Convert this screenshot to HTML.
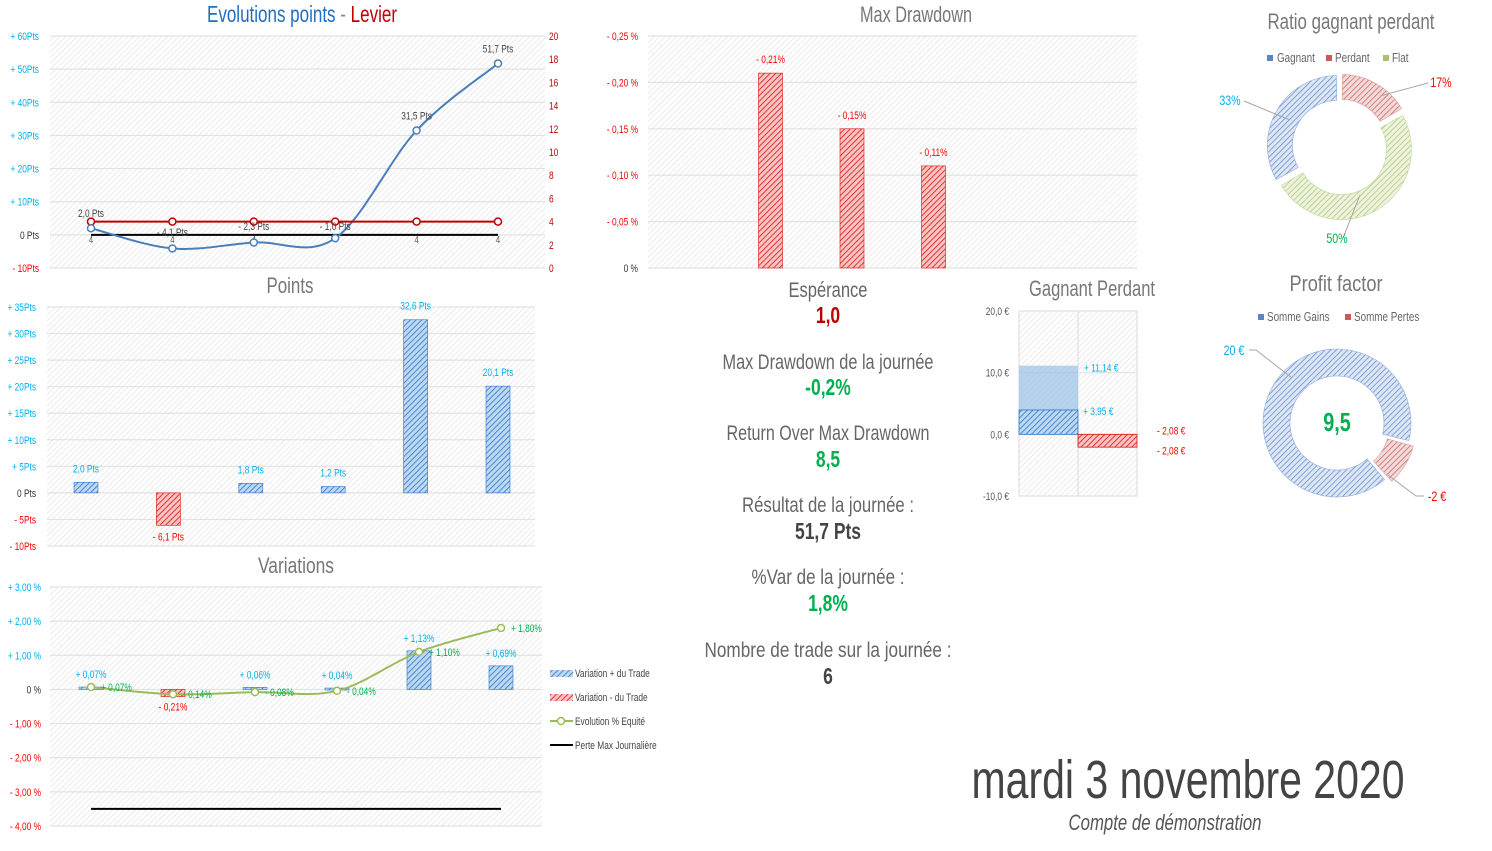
<!DOCTYPE html>
<html><head><meta charset="utf-8"><title>Dashboard</title>
<style>
html,body{margin:0;padding:0;background:#fff;}
svg{display:block;font-family:"Liberation Sans",sans-serif;}
</style></head>
<body>
<svg id="dash" xmlns="http://www.w3.org/2000/svg" width="1492" height="851" viewBox="0 0 1492 851">
<defs>
<pattern id="bg" width="4" height="4" patternUnits="userSpaceOnUse" patternTransform="rotate(45)"><rect width="4" height="4" fill="#fff"/><line x1="0" y1="0" x2="0" y2="4" stroke="#dedede" stroke-width="1.2"/></pattern>
<pattern id="hb" width="4" height="4" patternUnits="userSpaceOnUse" patternTransform="rotate(45)"><rect width="4" height="4" fill="#bcd8f2"/><line x1="0" y1="0" x2="0" y2="4" stroke="#2e75c6" stroke-width="1.6"/></pattern>
<pattern id="hr" width="4" height="4" patternUnits="userSpaceOnUse" patternTransform="rotate(45)"><rect width="4" height="4" fill="#f7c4c4"/><line x1="0" y1="0" x2="0" y2="4" stroke="#e01010" stroke-width="1.6"/></pattern>
<pattern id="db" width="4" height="4" patternUnits="userSpaceOnUse" patternTransform="rotate(45)"><rect width="4" height="4" fill="#dde6f4"/><line x1="0" y1="0" x2="0" y2="4" stroke="#5b84c8" stroke-width="1.4"/></pattern>
<pattern id="dr" width="4" height="4" patternUnits="userSpaceOnUse" patternTransform="rotate(45)"><rect width="4" height="4" fill="#f3dada"/><line x1="0" y1="0" x2="0" y2="4" stroke="#c65b59" stroke-width="1.4"/></pattern>
<pattern id="dg" width="4" height="4" patternUnits="userSpaceOnUse" patternTransform="rotate(45)"><rect width="4" height="4" fill="#edf3df"/><line x1="0" y1="0" x2="0" y2="4" stroke="#a6c46a" stroke-width="1.4"/></pattern>
</defs>

<text x="302" y="22" text-anchor="middle" font-size="23" textLength="190" lengthAdjust="spacingAndGlyphs"><tspan fill="#1f6fc0">Evolutions points</tspan><tspan fill="#888"> - </tspan><tspan fill="#c00000">Levier</tspan></text>
<text x="290" y="293" text-anchor="middle" font-size="22" fill="#777" textLength="47" lengthAdjust="spacingAndGlyphs">Points</text>
<text x="296" y="573" text-anchor="middle" font-size="22" fill="#777" textLength="76" lengthAdjust="spacingAndGlyphs">Variations</text>
<text x="916" y="22" text-anchor="middle" font-size="22" fill="#777" textLength="112" lengthAdjust="spacingAndGlyphs">Max Drawdown</text>
<text x="1351" y="29" text-anchor="middle" font-size="22" fill="#777" textLength="167" lengthAdjust="spacingAndGlyphs">Ratio gagnant perdant</text>
<text x="1092" y="296" text-anchor="middle" font-size="22" fill="#777" textLength="126" lengthAdjust="spacingAndGlyphs">Gagnant Perdant</text>
<text x="1336" y="291" text-anchor="middle" font-size="22" fill="#777" textLength="93" lengthAdjust="spacingAndGlyphs">Profit factor</text>

<g text-anchor="middle" font-size="21">
<text x="828" y="297" fill="#666" textLength="79" lengthAdjust="spacingAndGlyphs">Espérance</text>
<text x="828" y="323" fill="#c00000" font-weight="bold" font-size="23">1,0</text>
<text x="828" y="369" fill="#666" textLength="211" lengthAdjust="spacingAndGlyphs">Max Drawdown de la journée</text>
<text x="828" y="395" fill="#00b050" font-weight="bold" font-size="23">-0,2%</text>
<text x="828" y="440" fill="#666" textLength="203" lengthAdjust="spacingAndGlyphs">Return Over Max Drawdown</text>
<text x="828" y="467" fill="#00b050" font-weight="bold" font-size="23">8,5</text>
<text x="828" y="512" fill="#666" textLength="172" lengthAdjust="spacingAndGlyphs">Résultat de la journée :</text>
<text x="828" y="539" fill="#444" font-weight="bold" font-size="23">51,7 Pts</text>
<text x="828" y="584" fill="#666" textLength="153" lengthAdjust="spacingAndGlyphs">%Var de la journée :</text>
<text x="828" y="611" fill="#00b050" font-weight="bold" font-size="23">1,8%</text>
<text x="828" y="657" fill="#666" textLength="247" lengthAdjust="spacingAndGlyphs">Nombre de trade sur la journée :</text>
<text x="828" y="684" fill="#444" font-weight="bold" font-size="23">6</text>
</g>

<text x="1188" y="798" text-anchor="middle" font-size="54" fill="#444" textLength="433" lengthAdjust="spacingAndGlyphs">mardi 3 novembre 2020</text>
<text x="1165" y="830" text-anchor="middle" font-size="22" font-style="italic" fill="#555" textLength="193" lengthAdjust="spacingAndGlyphs">Compte de démonstration</text>

<g font-size="11" fill="#444">
<rect x="550" y="670" width="23" height="7" fill="url(#hb)"/>
<text x="575" y="677">Variation + du Trade</text>
<rect x="550" y="694" width="23" height="7" fill="url(#hr)"/>
<text x="575" y="701">Variation - du Trade</text>
<line x1="550" y1="721" x2="573" y2="721" stroke="#9bbb59" stroke-width="2"/>
<circle cx="561" cy="721" r="3.5" fill="#fff" stroke="#9bbb59" stroke-width="1.5"/>
<text x="575" y="725">Evolution % Equité</text>
<line x1="550" y1="745" x2="573" y2="745" stroke="#000" stroke-width="2"/>
<text x="575" y="749">Perte Max Journalière</text>
</g>

<g font-size="13" fill="#666">
<rect x="1267" y="55" width="6" height="6" fill="#5b84c8"/>
<text x="1277" y="62">Gagnant</text>
<rect x="1326" y="55" width="6" height="6" fill="#c65b59"/>
<text x="1335" y="62">Perdant</text>
<rect x="1383" y="55" width="6" height="6" fill="#a6c46a"/>
<text x="1392" y="62">Flat</text>
</g>
<g font-size="13" fill="#666">
<rect x="1258" y="314" width="6" height="6" fill="#5b84c8"/>
<text x="1267" y="321">Somme Gains</text>
<rect x="1345" y="314" width="6" height="6" fill="#c65b59"/>
<text x="1354" y="321">Somme Pertes</text>
</g>
<text x="1337" y="431" text-anchor="middle" font-size="26" font-weight="bold" fill="#00b050">9,5</text>
</svg>

<script>
// ---- data ----
var evoCats = [1, 2, 3, 4, 5, 6];
var evoPoints = [2.0, -4.1, -2.3, -1.0, 31.5, 51.7];
var evoPointLabels = ["2,0 Pts", "- 4,1 Pts", "- 2,3 Pts", "- 1,0 Pts", "31,5 Pts", "51,7 Pts"];
var evoLevier = [4, 4, 4, 4, 4, 4];
var evoLeftTicks = [-10, 0, 10, 20, 30, 40, 50, 60];
var evoRightTicks = [0, 2, 4, 6, 8, 10, 12, 14, 16, 18, 20];

var ptsValues = [2.0, -6.1, 1.8, 1.2, 32.6, 20.1];
var ptsLabels = ["2,0 Pts", "- 6,1 Pts", "1,8 Pts", "1,2 Pts", "32,6 Pts", "20,1 Pts"];
var ptsTicks = [-10, -5, 0, 5, 10, 15, 20, 25, 30, 35];

var varBars = [0.07, -0.21, 0.06, 0.04, 1.13, 0.69];
var varBarLabels = ["+ 0,07%", "- 0,21%", "+ 0,06%", "+ 0,04%", "+ 1,13%", "+ 0,69%"];
var varEquity = [0.07, -0.14, -0.08, -0.04, 1.10, 1.80];
var varEquityLabels = ["+ 0,07%", "- 0,14%", "- 0,08%", "- 0,04%", "+ 1,10%", "+ 1,80%"];
var varMaxLoss = -3.5;
var varTicks = [-4, -3, -2, -1, 0, 1, 2, 3];
var varTickLabels = ["- 4,00 %", "- 3,00 %", "- 2,00 %", "- 1,00 %", "0 %", "+ 1,00 %", "+ 2,00 %", "+ 3,00 %"];

var ddValues = [null, 0.21, 0.15, 0.11, null, null];
var ddLabels = ["", "- 0,21%", "- 0,15%", "- 0,11%", "", ""];
var ddTicks = [0, 0.05, 0.10, 0.15, 0.20, 0.25];
var ddTickLabels = ["0 %", "- 0,05 %", "- 0,10 %", "- 0,15 %", "- 0,20 %", "- 0,25 %"];

var gpTotalGain = 11.14;
var gpAvgGain = 3.95;
var gpLoss = -2.08;
var gpTicks = [-10, 0, 10, 20];
var gpTickLabels = ["-10,0 €", "0,0 €", "10,0 €", "20,0 €"];

var ratioNames = ["Gagnant", "Perdant", "Flat"];
var ratioValues = [33.33, 16.67, 50];
var ratioLabels = ["33%", "17%", "50%"];

var pfNames = ["Somme Gains", "Somme Pertes"];
var pfValues = [19.76, 2.08];
var pfLabels = ["20 €", "-2 €"];

// ---- helpers ----
var NS = "http://www.w3.org/2000/svg";
var root = document.getElementById("dash");
function mk(tag, attrs, parent) {
  var e = document.createElementNS(NS, tag);
  for (var k in attrs) e.setAttribute(k, attrs[k]);
  (parent || root).appendChild(e);
  return e;
}
function txt(s, attrs, parent) { var e = mk("text", attrs, parent); e.textContent = s; return e; }
function tickColor(v) { return v > 0 ? "#00b0f0" : (v < 0 ? "#ff0000" : "#333"); }
function smoothPath(pts) {
  var d = "M" + pts[0][0] + "," + pts[0][1];
  for (var i = 0; i < pts.length - 1; i++) {
    var p0 = pts[Math.max(0, i - 1)], p1 = pts[i], p2 = pts[i + 1], p3 = pts[Math.min(pts.length - 1, i + 2)];
    var t = 0.17;
    d += " C" + (p1[0] + (p2[0] - p0[0]) * t) + "," + (p1[1] + (p2[1] - p0[1]) * t) + " " +
      (p2[0] - (p3[0] - p1[0]) * t) + "," + (p2[1] - (p3[1] - p1[1]) * t) + " " + p2[0] + "," + p2[1];
  }
  return d;
}
function plotBg(x0, y0, x1, y1, name) {
  var r = mk("rect", {x: x0, y: y0, width: x1 - x0, height: y1 - y0, fill: "url(#bg)"});
  
  
}
function gridLine(x0, x1, y) {
  var l = mk("line", {x1: x0, x2: x1, y1: y, y2: y, stroke: "#e2e2e2", "stroke-width": 1.2});
  
  
}

// ---- Chart 1: Evolutions points ----
(function () {
  var X0 = 50, X1 = 545, Y0 = 36, Y1 = 268;
  function cx(i) { return 91 + i * 81.4; }
  function yL(v) { return Y1 - (v + 10) / 70 * (Y1 - Y0); }
  function yR(v) { return Y1 - v / 20 * (Y1 - Y0); }
  plotBg(X0, Y0, X1, Y1, 'evolution-plot-area');
  evoLeftTicks.forEach(function (v) {
    gridLine(X0, X1, yL(v));
    var lab = v > 0 ? "+ " + v + "Pts" : (v < 0 ? "- " + (-v) + "Pts" : "0 Pts");
    var t = txt(lab, {x: 39, y: yL(v) + 4, "text-anchor": "end", "font-size": 11, fill: tickColor(v)});
    
    
  });
  evoRightTicks.forEach(function (v) {
    var t = txt(String(v), {x: 549, y: yR(v) + 4, "font-size": 11, fill: "#c00000"});
    
    
  });
  var zl = mk("line", {x1: cx(0), x2: cx(evoCats.length - 1), y1: yL(0), y2: yL(0), stroke: "#000", "stroke-width": 2});
  
  
  evoCats.forEach(function (c, i) {
    var t = txt("4", {x: cx(i), y: yL(0) + 8, "text-anchor": "middle", "font-size": 10, fill: "#555"});
    
    
  });
  var bpts = evoPoints.map(function (v, i) { return [cx(i), yL(v)]; });
  var bl = mk("path", {d: smoothPath(bpts), fill: "none", stroke: "#4a7ebb", "stroke-width": 2});
  
  
  var rpts = evoLevier.map(function (v, i) { return [cx(i), yR(v)]; });
  var rl = mk("path", {d: smoothPath(rpts), fill: "none", stroke: "#c00000", "stroke-width": 2});
  
  
  rpts.forEach(function (p) {
    var m = mk("circle", {cx: p[0], cy: p[1], r: 3.5, fill: "#fff", stroke: "#c00000", "stroke-width": 1.5});
    
    
  });
  bpts.forEach(function (p, i) {
    var m = mk("circle", {cx: p[0], cy: p[1], r: 3.5, fill: "#fff", stroke: "#4a7ebb", "stroke-width": 1.5});
    
    
    var ly = evoPoints[i] < 0 ? yL(0) + (i === 1 ? 1 : -5) : p[1] - 11;
    var t = txt(evoPointLabels[i], {x: p[0], y: ly, "text-anchor": "middle", "font-size": 11, fill: "#444"});
    
    
  });
})();

// ---- Chart 2: Points bars ----
(function () {
  var X0 = 47, X1 = 535, Y0 = 307, Y1 = 546;
  function cx(i) { return 86 + i * 82.4; }
  function y(v) { return Y1 - (v + 10) / 45 * (Y1 - Y0); }
  plotBg(X0, Y0, X1, Y1, 'points-plot-area');
  ptsTicks.forEach(function (v) {
    gridLine(X0, X1, y(v));
    var lab = v > 0 ? "+ " + v + "Pts" : (v < 0 ? "- " + (-v) + "Pts" : "0 Pts");
    var t = txt(lab, {x: 36, y: y(v) + 4, "text-anchor": "end", "font-size": 11, fill: tickColor(v)});
    
    
  });
  ptsValues.forEach(function (v, i) {
    var top = Math.min(y(v), y(0)), h = Math.abs(y(v) - y(0));
    var b = mk("rect", {x: cx(i) - 12, y: top, width: 24, height: h, fill: v >= 0 ? "url(#hb)" : "url(#hr)", stroke: v >= 0 ? "#2e75c6" : "#e01010", "stroke-width": 0.6});
    
    
    var t = txt(ptsLabels[i], {x: cx(i), y: v >= 0 ? y(v) - 10 : y(v) + 15, "text-anchor": "middle", "font-size": 11, fill: v >= 0 ? "#00b0f0" : "#ff0000"});
    
    
  });
})();

// ---- Chart 3: Variations ----
(function () {
  var X0 = 50, X1 = 542, Y0 = 587, Y1 = 826;
  function cx(i) { return 91 + i * 82; }
  function y(v) { return Y1 - (v + 4) / 7 * (Y1 - Y0); }
  plotBg(X0, Y0, X1, Y1, 'variations-plot-area');
  varTicks.forEach(function (v, k) {
    gridLine(X0, X1, y(v));
    var t = txt(varTickLabels[k], {x: 41, y: y(v) + 4, "text-anchor": "end", "font-size": 11, fill: tickColor(v)});
    
    
  });
  varBars.forEach(function (v, i) {
    var top = Math.min(y(v), y(0)), h = Math.max(2, Math.abs(y(v) - y(0)));
    var b = mk("rect", {x: cx(i) - 12, y: top, width: 24, height: h, fill: v >= 0 ? "url(#hb)" : "url(#hr)", stroke: v >= 0 ? "#2e75c6" : "#e01010", "stroke-width": 0.6});
    
    
    var t = txt(varBarLabels[i], {x: cx(i), y: v >= 0 ? y(v) - 9 : y(v) + 14, "text-anchor": "middle", "font-size": 11, fill: v >= 0 ? "#00b0f0" : "#ff0000"});
    
    
  });
  var ml = mk("line", {x1: cx(0), x2: cx(varBars.length - 1), y1: y(varMaxLoss), y2: y(varMaxLoss), stroke: "#000", "stroke-width": 2});
  
  
  var gp = varEquity.map(function (v, i) { return [cx(i), y(v)]; });
  var gl = mk("path", {d: smoothPath(gp), fill: "none", stroke: "#9bbb59", "stroke-width": 2});
  
  
  gp.forEach(function (p, i) {
    var m = mk("circle", {cx: p[0], cy: p[1], r: 3.5, fill: "#fff", stroke: "#9bbb59", "stroke-width": 1.5});
    
    
    var t = txt(varEquityLabels[i], {x: p[0] + 10, y: p[1] + 4, "font-size": 11, fill: "#00b050"});
    
    
  });
})();

// ---- Chart 4: Max Drawdown ----
(function () {
  var X0 = 648, X1 = 1137, Y0 = 36, Y1 = 268;
  function cx(i) { return 689 + i * 81.5; }
  function y(v) { return Y1 - v / 0.25 * (Y1 - Y0); }
  plotBg(X0, Y0, X1, Y1, 'drawdown-plot-area');
  ddTicks.forEach(function (v, k) {
    gridLine(X0, X1, y(v));
    var t = txt(ddTickLabels[k], {x: 638, y: y(v) + 4, "text-anchor": "end", "font-size": 11, fill: v === 0 ? "#333" : "#ff0000"});
    
    
  });
  ddValues.forEach(function (v, i) {
    if (v === null) return;
    var b = mk("rect", {x: cx(i) - 12, y: y(v), width: 24, height: y(0) - y(v), fill: "url(#hr)", stroke: "#e01010", "stroke-width": 0.6});
    
    
    var t = txt(ddLabels[i], {x: cx(i), y: y(v) - 10, "text-anchor": "middle", "font-size": 11, fill: "#ff0000"});
    
    
  });
})();

// ---- Chart 5: Gagnant Perdant ----
(function () {
  var X0 = 1019, XM = 1078, X1 = 1137, Y0 = 311, Y1 = 496;
  function y(v) { return Y1 - (v + 10) / 30 * (Y1 - Y0); }
  plotBg(X0, Y0, X1, Y1, 'gagnant-perdant-plot-area');
  var fr = mk("rect", {x: X0, y: Y0, width: X1 - X0, height: Y1 - Y0, fill: "none", stroke: "#d9d9d9"});
  
  
  var dv = mk("line", {x1: XM, x2: XM, y1: Y0, y2: Y1, stroke: "#d9d9d9"});
  
  
  gpTicks.forEach(function (v, k) {
    gridLine(X0, X1, y(v));
    var t = txt(gpTickLabels[k], {x: 1009, y: y(v) + 4, "text-anchor": "end", "font-size": 11, fill: "#555"});
    
    
  });
  var a = mk("rect", {x: X0, y: y(gpTotalGain), width: XM - X0, height: y(0) - y(gpTotalGain), fill: "#9dc3e6", opacity: 0.75});
  
  
  var b = mk("rect", {x: X0, y: y(gpAvgGain), width: XM - X0, height: y(0) - y(gpAvgGain), fill: "url(#hb)", stroke: "#2e75c6", "stroke-width": 0.8});
  
  
  var c = mk("rect", {x: XM, y: y(0), width: X1 - XM, height: y(gpLoss) - y(0), fill: "url(#hr)", stroke: "#e01010", "stroke-width": 0.8});
  
  
  var t1 = txt("+ " + gpTotalGain.toFixed(2).replace(".", ",") + " €", {x: 1084, y: y(gpTotalGain) + 6, "font-size": 11, fill: "#00b0f0"});
  
  
  var t2 = txt("+ " + gpAvgGain.toFixed(2).replace(".", ",") + " €", {x: 1083, y: y(gpAvgGain) + 5, "font-size": 11, fill: "#00b0f0"});
  
  
  var t3 = txt("- " + (-gpLoss).toFixed(2).replace(".", ",") + " €", {x: 1157, y: y(0), "font-size": 11, fill: "#ff0000"});
  
  
  var t4 = txt("- " + (-gpLoss).toFixed(2).replace(".", ",") + " €", {x: 1157, y: y(0) + 20, "font-size": 11, fill: "#ff0000"});
  
  
})();

// ---- Donuts ----
function arcPath(cx, cy, r0, r1, a0, a1) {
  function pt(r, a) { var t = (a - 90) * Math.PI / 180; return [cx + r * Math.cos(t), cy + r * Math.sin(t)]; }
  var lg = (a1 - a0) > 180 ? 1 : 0;
  var p1 = pt(r1, a0), p2 = pt(r1, a1), p3 = pt(r0, a1), p4 = pt(r0, a0);
  return "M" + p1[0] + "," + p1[1] + " A" + r1 + "," + r1 + " 0 " + lg + " 1 " + p2[0] + "," + p2[1] +
    " L" + p3[0] + "," + p3[1] + " A" + r0 + "," + r0 + " 0 " + lg + " 0 " + p4[0] + "," + p4[1] + "Z";
}
(function () {
  var cx = 1340, cy = 147, r0 = 45, r1 = 70, start = 240;
  var fills = ["url(#db)", "url(#dr)", "url(#dg)"];
  var strokes = ["#8faadc", "#dd9a99", "#c3d69b"];
  var total = ratioValues.reduce(function (a, b) { return a + b; }, 0);
  var a = start;
  ratioValues.forEach(function (v, i) {
    var sweep = v / total * 360, mid = (a + sweep / 2 - 90) * Math.PI / 180;
    var dx = 3 * Math.cos(mid), dy = 3 * Math.sin(mid);
    var s = mk("path", {d: arcPath(cx + dx, cy + dy, r0, r1, a + 0.8, a + sweep - 0.8), fill: fills[i], stroke: strokes[i], "stroke-width": 0.6});
    
    
    a += sweep;
  });
  var leaders = [[1244, 101, 1290, 120], [1428, 83, 1380, 96], [1343, 238, 1360, 195]];
  var lpos = [[1230, 105, "#00b0f0"], [1441, 87, "#ff0000"], [1337, 243, "#00b050"]];
  ratioLabels.forEach(function (l, i) {
    var ln = mk("line", {x1: leaders[i][0], y1: leaders[i][1], x2: leaders[i][2], y2: leaders[i][3], stroke: "#a6a6a6"});
    
    
    var t = txt(l, {x: lpos[i][0], y: lpos[i][1], "text-anchor": "middle", "font-size": 14, fill: lpos[i][2]});
    
    
  });
})();
(function () {
  var cx = 1337, cy = 423, r0 = 47, r1 = 74, start = 139;
  var fills = ["url(#db)", "url(#dr)"];
  var strokes = ["#8faadc", "#dd9a99"];
  var expl = [0, 6];
  var total = pfValues.reduce(function (a, b) { return a + b; }, 0);
  var a = start;
  pfValues.forEach(function (v, i) {
    var sweep = v / total * 360, mid = (a + sweep / 2 - 90) * Math.PI / 180;
    var dx = expl[i] * Math.cos(mid), dy = expl[i] * Math.sin(mid);
    var s = mk("path", {d: arcPath(cx + dx, cy + dy, r0, r1, a + 1, a + sweep - 1), fill: fills[i], stroke: strokes[i], "stroke-width": 0.6});
    
    
    a += sweep;
  });
  var l1 = mk("polyline", {points: "1249,350 1256,350 1292,378", fill: "none", stroke: "#a6a6a6"});
  
  
  var l2 = mk("polyline", {points: "1424,496 1416,496 1388,475", fill: "none", stroke: "#a6a6a6"});
  
  
  var t1 = txt(pfLabels[0], {x: 1234, y: 355, "text-anchor": "middle", "font-size": 14, fill: "#00b0f0"});
  
  
  var t2 = txt(pfLabels[1], {x: 1437, y: 501, "text-anchor": "middle", "font-size": 14, fill: "#ff0000"});
  
  
})();

// condense all text that has no explicit textLength (emulates narrow font)
Array.prototype.forEach.call(document.querySelectorAll("#dash text"), function (t) {
  if (t.hasAttribute("textLength")) return;
  var x = parseFloat(t.getAttribute("x")) || 0;
  t.setAttribute("transform", "translate(" + x + ",0) scale(0.76,1) translate(" + (-x) + ",0)");
});
</script>
</body></html>
